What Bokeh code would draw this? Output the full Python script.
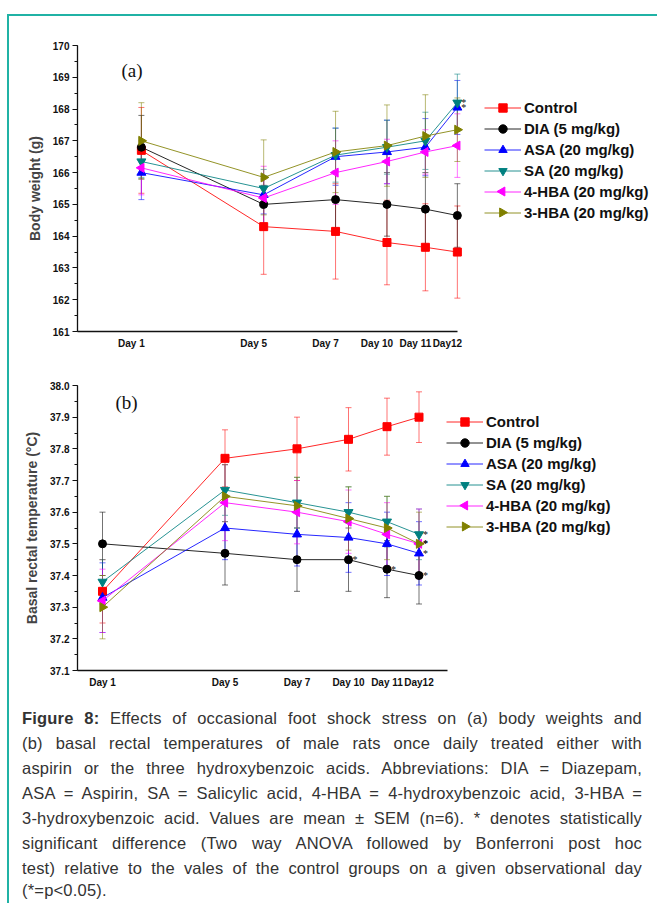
import math
from bokeh.plotting import figure
from bokeh.models import (ColumnDataSource, Range1d, FixedTicker, SingleIntervalTicker,
                          PrintfTickFormatter, Legend, LegendItem, Whisker, TeeHead,
                          Label, LabelSet, Div, Spacer)
from bokeh.layouts import column, row
from bokeh.embed import file_html
from bokeh.resources import INLINE

# ---------------- data ----------------
days = ["Day 1", "Day 5", "Day 7", "Day 10", "Day 11", "Day12"]
groups = ["Control", "DIA (5 mg/kg)", "ASA (20 mg/kg)", "SA (20 mg/kg)",
          "4-HBA (20 mg/kg)", "3-HBA (20 mg/kg)"]

# (a) body weight (g), mean and SEM
bw_control = [166.7, 164.3, 164.15, 163.8, 163.65, 163.5]
bw_control_sem = [1.35, 1.5, 1.5, 1.33, 1.37, 1.45]
bw_dia = [166.8, 165.0, 165.15, 165.0, 164.85, 164.65]
bw_dia_sem = [1.0, 0.6, 0.9, 1.0, 1.15, 1.0]
bw_asa = [166.0, 165.3, 166.5, 166.65, 166.8, 168.05]
bw_asa_sem = [0.85, 0.6, 0.9, 1.0, 0.9, 0.85]
bw_sa = [166.35, 165.5, 166.55, 166.8, 167.0, 168.2]
bw_sa_sem = [0.5, 0.6, 0.85, 0.85, 0.9, 0.9]
bw_4hba = [166.15, 165.2, 166.0, 166.35, 166.65, 166.85]
bw_4hba_sem = [0.85, 1.0, 1.0, 0.7, 0.7, 1.0]
bw_3hba = [167.0, 165.85, 166.65, 166.85, 167.15, 167.35]
bw_3hba_sem = [1.2, 1.18, 1.28, 1.28, 1.3, 1.0]
# significant vs control (* p<0.05): (group index, day index)
bw_sig = [(3, 5), (2, 5)]

# (b) basal rectal temperature (°C), mean and SEM
bt_control = [37.35, 37.77, 37.80, 37.83, 37.87, 37.90]
bt_control_sem = [0.1, 0.09, 0.10, 0.10, 0.09, 0.08]
bt_dia = [37.50, 37.47, 37.45, 37.45, 37.42, 37.40]
bt_dia_sem = [0.10, 0.10, 0.10, 0.10, 0.09, 0.09]
bt_asa = [37.33, 37.55, 37.53, 37.52, 37.50, 37.47]
bt_asa_sem = [0.11, 0.1, 0.1, 0.11, 0.1, 0.1]
bt_sa = [37.38, 37.67, 37.63, 37.60, 37.57, 37.53]
bt_sa_sem = [0.07, 0.08, 0.08, 0.08, 0.08, 0.08]
bt_4hba = [37.32, 37.63, 37.60, 37.57, 37.53, 37.50]
bt_4hba_sem = [0.1, 0.12, 0.1, 0.1, 0.1, 0.11]
bt_3hba = [37.30, 37.65, 37.62, 37.58, 37.55, 37.50]
bt_3hba_sem = [0.1, 0.1, 0.09, 0.1, 0.1, 0.1]
bt_sig = [(1, 3), (1, 4), (1, 5), (3, 5), (5, 5), (4, 5), (2, 5)]

caption_lines = [
    "<b>Figure 8:</b> Effects of occasional foot shock stress on (a) body weights and",
    "(b) basal rectal temperatures of male rats once daily treated either with",
    "aspirin or the three hydroxybenzoic acids. Abbreviations: DIA = Diazepam,",
    "ASA = Aspirin, SA = Salicylic acid, 4-HBA = 4-hydroxybenzoic acid, 3-HBA =",
    "3-hydroxybenzoic acid. Values are mean ± SEM (n=6). * denotes statistically",
    "significant difference (Two way ANOVA followed by Bonferroni post hoc",
    "test) relative to the vales of the control groups on a given observational day",
    "(*=p&lt;0.05).",
]

# ---------------- layout / styles ----------------
# uneven horizontal placement of the observation days on the category axis
day_pos = [0, 122.5, 194.5, 246, 284.5, 316.5]

colors = ["#ff0000", "#000000", "#0000ff", "#008080", "#ff00ff", "#808000"]
markers = ["square", "circle", "triangle", "inverted_triangle", "triangle", "triangle"]
angles = [0, 0, 0, 0, math.pi / 2, -math.pi / 2]
msizes = [8, 8, 9, 9, 9, 9]
TEAL = "#20b2a5"
FONT = "Liberation Sans"
FIG_W = 647
LEG_GW, LEG_GH = 37, 21


def make_panel(means, sems, sig, y0, y1, interval, fmt, ylabel, tag, tag_xy,
               height, mb_left, mb_top, mb_bottom, x0, x_axis_end, tick_shift, legend_loc):
    frame_w = FIG_W - mb_left
    frame_h = height - mb_top - mb_bottom
    x1 = x0 + frame_w
    p = figure(width=FIG_W, height=height, x_range=Range1d(x0, x1),
               y_range=Range1d(y0, y1),
               output_backend="svg", toolbar_location=None,
               min_border_left=mb_left, min_border_right=0,
               min_border_top=mb_top, min_border_bottom=mb_bottom)
    p.xgrid.visible = False
    p.ygrid.visible = False
    p.outline_line_color = None
    p.background_fill_color = "white"
    p.border_fill_color = "white"

    tick_vals = [d + tick_shift for d in day_pos]
    p.xaxis.ticker = FixedTicker(ticks=tick_vals)
    p.xaxis.major_label_overrides = {t: lab for t, lab in zip(tick_vals, days)}
    p.xaxis.bounds = (x0, x_axis_end)
    p.xaxis.major_tick_out = 0
    p.xaxis.major_tick_in = 0
    p.xaxis.minor_tick_out = 0
    p.xaxis.major_label_standoff = 6
    p.yaxis.ticker = SingleIntervalTicker(interval=interval, num_minor_ticks=2)
    p.yaxis.formatter = PrintfTickFormatter(format=fmt)
    p.yaxis.major_tick_out = 5
    p.yaxis.major_tick_in = 0
    p.yaxis.minor_tick_out = 3
    p.yaxis.minor_tick_in = 0
    p.yaxis.major_label_standoff = 3
    p.yaxis.axis_label = ylabel
    p.yaxis.axis_label_standoff = 7
    p.yaxis.axis_label_text_font = FONT
    p.yaxis.axis_label_text_font_size = "14px"
    p.yaxis.axis_label_text_font_style = "bold"
    for ax in (p.xaxis, p.yaxis):
        ax.axis_line_width = 1.3
        ax.axis_line_color = "#111111"
        ax.major_tick_line_color = "#111111"
        ax.minor_tick_line_color = "#111111"
        ax.major_label_text_font = FONT
        ax.major_label_text_font_size = "10px"
        ax.major_label_text_font_style = "bold"
        ax.major_label_text_color = "#111111"

    n = len(groups)
    items = []
    for i, g in enumerate(groups):
        m, s = means[i], sems[i]
        src = ColumnDataSource(dict(x=day_pos, y=m,
                                    upper=[a + b for a, b in zip(m, s)],
                                    lower=[a - b for a, b in zip(m, s)]))
        w = Whisker(source=src, base="x", upper="upper", lower="lower", dimension="height",
                    line_color=colors[i], line_alpha=0.55, line_width=1, level="underlay",
                    upper_head=TeeHead(size=6, line_color=colors[i], line_alpha=0.55, line_width=1),
                    lower_head=TeeHead(size=6, line_color=colors[i], line_alpha=0.55, line_width=1))
        p.add_layout(w)
        lr = p.line("x", "y", source=src, line_color=colors[i], line_width=1, line_alpha=0.85)
        sr = p.scatter("x", "y", source=src, marker=markers[i], size=msizes[i], angle=angles[i],
                       fill_color=colors[i], line_color=colors[i])
        if angles[i] == 0:
            items.append(LegendItem(label=g, renderers=[lr, sr]))
        else:
            # legend markers are never rotated by Bokeh: draw the rotated key marker
            # at the centre of this entry's key area
            items.append(LegendItem(label=g, renderers=[lr]))
            kx = legend_loc[0] + LEG_GW / 2
            ky = legend_loc[1] + (n - i - 0.5) * LEG_GH
            p.scatter([x0 + kx * (x1 - x0) / frame_w], [y0 + ky * (y1 - y0) / frame_h],
                      marker=markers[i], size=msizes[i], angle=angles[i],
                      fill_color=colors[i], line_color=colors[i])

    leg = Legend(items=items, location=legend_loc, glyph_width=LEG_GW, glyph_height=LEG_GH,
                 spacing=0, padding=0, margin=0, label_standoff=3, label_height=LEG_GH,
                 label_text_font=FONT, label_text_font_size="15px",
                 label_text_font_style="bold", label_text_color="#111111",
                 border_line_color=None, background_fill_alpha=0)
    p.add_layout(leg)

    sx = [day_pos[d] for g, d in sig]
    sy = [means[g][d] for g, d in sig]
    ss = ColumnDataSource(dict(x=sx, y=sy, t=["*"] * len(sx)))
    p.add_layout(LabelSet(x="x", y="y", text="t", source=ss, x_offset=4, y_offset=0,
                          text_font=FONT, text_font_size="10px", text_color="#111111",
                          text_baseline="middle", text_align="left"))

    p.add_layout(Label(x=tag_xy[0], y=tag_xy[1], text=tag, text_font="Liberation Serif",
                       text_font_size="19px", text_baseline="middle", text_align="left",
                       text_color="#111111"))
    return p


bw_means = [bw_control, bw_dia, bw_asa, bw_sa, bw_4hba, bw_3hba]
bw_sems = [bw_control_sem, bw_dia_sem, bw_asa_sem, bw_sa_sem, bw_4hba_sem, bw_3hba_sem]
bt_means = [bt_control, bt_dia, bt_asa, bt_sa, bt_4hba, bt_3hba]
bt_sems = [bt_control_sem, bt_dia_sem, bt_asa_sem, bt_sa_sem, bt_4hba_sem, bt_3hba_sem]

pa = make_panel(bw_means, bw_sems, bw_sig, 161, 170, 1, "%d", "Body weight (g)", "(a)",
                (-20, 169.2), 344, 66, 29, 29, -64, 317, -10, (407, 108.5))
pb = make_panel(bt_means, bt_sems, bt_sig, 37.1, 38.0, 0.1, "%.1f",
                "Basal rectal temperature (°C)", "(b)", (13, 37.946),
                340, 67, 25, 30, -25, 345, 0, (369, 133.5))

rows = []
for k, line in enumerate(caption_lines):
    if k < len(caption_lines) - 1:
        rows.append('<div style="text-align:justify;text-align-last:justify;'
                    'line-height:25px;">%s</div>' % line)
    else:
        rows.append('<div style="line-height:19px;">%s</div>' % line)
html = ('<div style="box-sizing:border-box;padding:5.5px 15px 0 12px;width:647px;'
        'font-family:\'Liberation Sans\',Arial,sans-serif;'
        'font-size:16.5px;letter-spacing:0.2px;color:#333333;">%s</div>' % "".join(rows))
cap = Div(text=html, width=FIG_W, height=203, margin=0)

top_line = Div(text="", width=650, height=2, margin=0, styles={"background-color": TEAL})
left_line = Div(text="", width=2, height=887, margin=0, styles={"background-color": TEAL})
layout = column(
    Spacer(width=657, height=14, margin=0),
    row(Spacer(width=7, height=2, margin=0), top_line, spacing=0),
    row(Spacer(width=7, height=887, margin=0), left_line, Spacer(width=1, height=887, margin=0),
        column(pa, pb, cap, spacing=0), spacing=0),
    spacing=0)

open("out.html", "w").write(file_html(layout, INLINE))
